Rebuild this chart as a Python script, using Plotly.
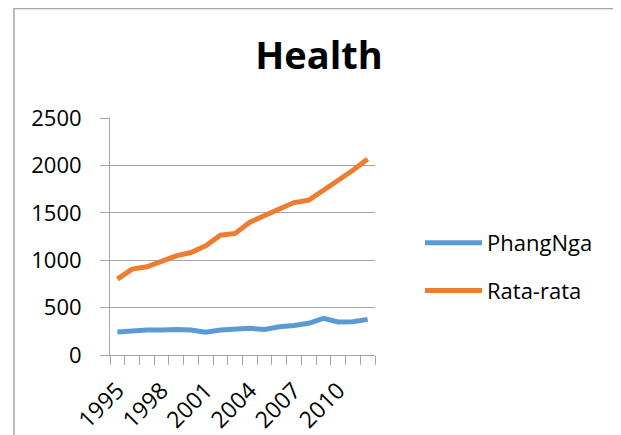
import plotly.graph_objects as go

years = list(range(1995, 2013))
phangnga = [242, 256, 263, 263, 270, 263, 239, 263, 270, 281, 270, 298, 312, 334, 386, 348, 351, 376]
rata_rata = [800, 906, 930, 983, 1046, 1081, 1152, 1264, 1282, 1401, 1475, 1541, 1608, 1633, 1738, 1840, 1949, 2068]
tick_years = [1995, 1998, 2001, 2004, 2007, 2010]

GRID = '#a6a6a6'
FONT = 'Open Sans'

# the page body has an 8px margin, so the figure is drawn 8px smaller
W, H = 613, 427
# plot area in figure pixels
L, R, T, B = 102, 367, 110, 347


def px_x(p):
    return (p - L) / (R - L)


def px_y(p):
    return (B - p) / (B - T)


fig = go.Figure()
fig.add_trace(go.Scatter(
    x=years, y=phangnga, mode='lines', name='PhangNga',
    line=dict(color='#5B9BD5', width=5), legendgroup='a'
))
fig.add_trace(go.Scatter(
    x=years, y=rata_rata, mode='lines', name='Rata-rata',
    line=dict(color='#ED7D31', width=5), legendgroup='b'
))

fig.update_layout(
    width=W, height=H,
    margin=dict(l=L, r=W - R, t=T, b=H - B, pad=0, autoexpand=False),
    paper_bgcolor='white', plot_bgcolor='white',
    font=dict(family=FONT, color='black', size=22),
    title=dict(
        text='<b>Health</b>', x=px_x(311), xref='paper', xanchor='center',
        y=1 - 48 / H, yref='container', yanchor='middle',
        font=dict(family=FONT, size=38, color='black'),
    ),
    xaxis=dict(
        range=[1994.5, 2012.5], tickvals=tick_years, ticktext=[str(y) for y in tick_years],
        ticks='', tickangle=-45, tickfont=dict(size=23), ticklabelstandoff=12,
        automargin=False,
        showgrid=False, zeroline=False, showline=True, linecolor=GRID, linewidth=1,
        minor=dict(tickvals=[y - 0.5 for y in years] + [2012.5], ticks='outside',
                   ticklen=9, tickcolor=GRID, tickwidth=1, showgrid=False),
    ),
    yaxis=dict(
        range=[0, 2500], tickvals=[0, 500, 1000, 1500, 2000, 2500],
        ticks='outside', ticklen=9, tickcolor=GRID, ticklabelstandoff=14,
        automargin=False,
        showgrid=True, gridcolor=GRID, gridwidth=1, zeroline=False,
        showline=True, linecolor=GRID, linewidth=1, tickfont=dict(size=22),
    ),
    legend=dict(
        x=px_x(412), xanchor='left', y=px_y(214), yanchor='top',
        font=dict(size=22), traceorder='grouped', tracegroupgap=16,
        itemwidth=57, bgcolor='rgba(0,0,0,0)',
    ),
    shapes=[
        dict(type='line', xref='paper', yref='paper', x0=px_x(6), x1=px_x(6),
             y0=px_y(0), y1=px_y(H + 5), line=dict(color=GRID, width=1.5)),
        dict(type='line', xref='paper', yref='paper', x0=px_x(6), x1=px_x(W + 5),
             y0=px_y(0.5), y1=px_y(0.5), line=dict(color=GRID, width=1.5)),
    ],
)

fig.write_html('out.html')
